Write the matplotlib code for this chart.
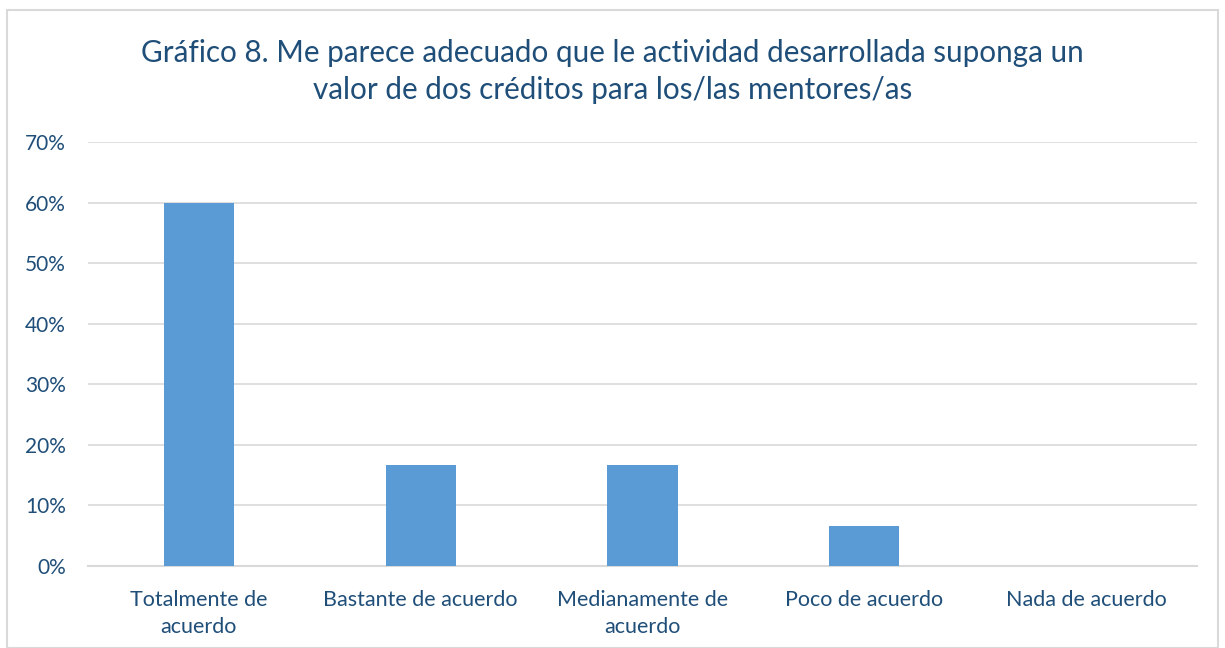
import matplotlib
matplotlib.use("Agg")
import matplotlib.pyplot as plt
from matplotlib.patches import Rectangle
from matplotlib.ticker import FuncFormatter, MultipleLocator

categories = ["Totalmente de\nacuerdo", "Bastante de acuerdo", "Medianamente de\nacuerdo",
              "Poco de acuerdo", "Nada de acuerdo"]
values = [0.60, 0.1667, 0.1667, 0.0667, 0.0]
title = "Gráfico 8. Me parece adecuado que le actividad desarrollada suponga un\nvalor de dos créditos para los/las mentores/as"

plt.rcParams['font.family'] = ['Lato', 'DejaVu Sans']
text_color = "#1F4E79"
bar_color = "#5B9BD5"
grid_color = "#D9D9D9"

fig = plt.figure(figsize=(12.25, 6.48), dpi=100)
ax = fig.add_axes([88/1225, 1-566/648, (1197-88)/1225, (566-142)/648])

x = list(range(len(categories)))
ax.bar(x, values, width=0.316, color=bar_color, zorder=3)
ax.set_xlim(-0.5, len(categories)-0.5)
ax.set_ylim(0, 0.70)
ax.yaxis.set_major_locator(MultipleLocator(0.10))
ax.yaxis.set_major_formatter(FuncFormatter(lambda v, p: f"{v*100:.0f}%"))
ax.grid(axis='y', color=grid_color, linewidth=1.2, zorder=0)
for s in ['top', 'right', 'left']:
    ax.spines[s].set_visible(False)
ax.spines['bottom'].set_color(grid_color)
ax.spines['bottom'].set_linewidth(1.5)
ax.set_xticks(x)
ax.set_xticklabels(categories, fontsize=15.5, color=text_color, linespacing=1.45)
ax.tick_params(axis='y', labelsize=15, labelcolor=text_color, length=0, pad=16)
ax.tick_params(axis='x', length=0, pad=17)

fig.text(0.5, 1-39/648, title, ha='center', va='top', fontsize=21.3,
         color=text_color, linespacing=1.4)

fig.patches.append(Rectangle((7/1225, 0.5/648), (1218-7)/1225, (638-0.5)/648,
                             transform=fig.transFigure, fill=False,
                             edgecolor=grid_color, linewidth=1.5))
fig.savefig("out.png", dpi=100)
